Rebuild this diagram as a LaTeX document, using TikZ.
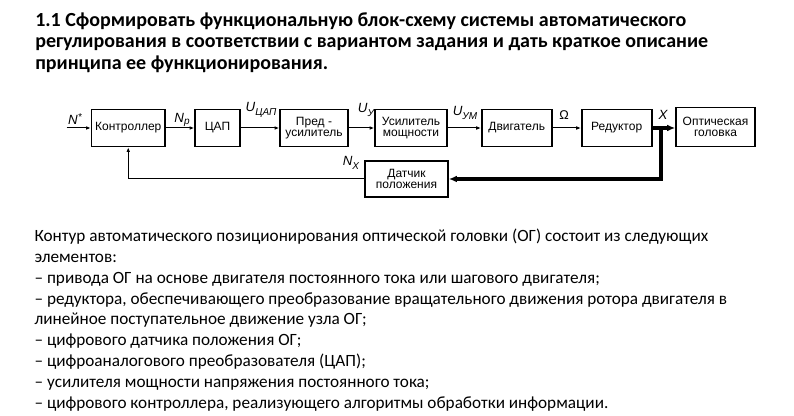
\documentclass[tikz,border=0pt]{standalone}
\usepackage{fontspec}
\setmainfont{Carlito}
\newfontfamily\arialf{Liberation Sans}
\usetikzlibrary{arrows.meta}
\begin{document}
\begin{tikzpicture}[x=0.75pt,y=-0.75pt,
  blk/.style={draw,line width=1.2pt,inner sep=0pt,minimum height=27.75pt,align=center,font=\arialf\fontsize{9}{8.6}\selectfont},
  lab/.style={inner sep=0pt,font=\arialf\itshape\fontsize{10}{11}\selectfont},
  conn/.style={line width=0.75pt,-{Latex[length=3.5pt,width=2.8pt]}},
  thk/.style={line width=2.3pt},
  ttl/.style={anchor=base west,inner sep=0pt,font=\bfseries\fontsize{15}{16}\selectfont},
  bod/.style={anchor=base west,inner sep=0pt,font=\fontsize{12.9}{15}\selectfont}]
\useasboundingbox[fill=white] (0,0) rectangle (794,416);
% title
\node[ttl] (t1) at (35,26.7) {1.1 Сформировать функциональную блок-схему системы автоматического};
\node[ttl] (t2) at (35,48) {регулирования в соответствии с вариантом задания и дать краткое описание};
\node[ttl] (t3) at (35,69.3) {принципа ее функционирования.};
% blocks
\node[blk,minimum width=55.1pt] (ctrl) at (128.25,128) {Контроллер};
\node[blk,minimum width=33.75pt] (dac) at (217.5,128) {ЦАП};
\node[blk,minimum width=51pt] (pre) at (314,128) {Пред -\\усилитель};
\node[blk,minimum width=54pt] (amp) at (411,128) {Усилитель\\мощности};
\node[blk,minimum width=52.5pt] (mot) at (516.7,128) {Двигатель};
\node[blk,minimum width=52.5pt] (red) at (616.7,128) {Редуктор};
\node[blk,minimum width=59.25pt,minimum height=29.25pt] (opt) at (715.5,127) {Оптическая\\головка};
\node[blk,minimum width=62.25pt,minimum height=27pt] (dat) at (406.5,179) {Датчик\\положения};
% connectors
\coordinate (in) at (66.7,128);
\coordinate (br) at (661,128);
\draw[conn] (in) -- (ctrl.west);
\draw[conn] (ctrl.east) -- (dac.west);
\draw[conn] (dac.east) -- (pre.west);
\draw[conn] (pre.east) -- (amp.west);
\draw[conn] (amp.east) -- (mot.west);
\draw[conn] (mot.east) -- (red.west);
\draw[thk] (red.east) -- (br);
\draw[thk,-{Latex[length=6pt,width=5pt]}] (br) -- (br -| opt.west);
\draw[thk,-{Latex[length=6pt,width=5pt]}] (br) |- (dat.east);
\draw[conn] (dat.west) -| (ctrl.south);
% labels
\node[lab] (lN) at (75,119) {N\raisebox{3.5pt}{\fontsize{7.5}{8}\selectfont *}};
\node[lab] (lNp) at (182,120) {N\raisebox{-2pt}{\fontsize{7.5}{8}\selectfont p}};
\node[lab] (lU1) at (261,110) {U\raisebox{-3pt}{\fontsize{7.5}{8}\selectfont ЦАП}};
\node[lab] (lU2) at (366,110) {U\raisebox{-3pt}{\fontsize{7.5}{8}\selectfont У}};
\node[lab] (lU3) at (465,113) {U\raisebox{-3pt}{\fontsize{7.5}{8}\selectfont УМ}};
\node[lab,font=\arialf\fontsize{9.5}{10}\selectfont] (lW) at (564,115) {Ω};
\node[lab] (lX) at (663,115) {X};
\node[lab] (lNx) at (351,163) {N\raisebox{-2.5pt}{\fontsize{7.5}{8}\selectfont X}};
% body
\node[bod] (b1) at (34.3,241.7) {Контур автоматического позиционирования оптической головки (ОГ) состоит из следующих};
\node[bod] (b2) at (34.3,262.5) {элементов:};
\node[bod] (b3) at (34.3,283.3) {– привода ОГ на основе двигателя постоянного тока или шагового двигателя;};
\node[bod] (b4) at (34.3,304.1) {– редуктора, обеспечивающего преобразование вращательного движения ротора двигателя в};
\node[bod] (b5) at (34.3,324.9) {линейное поступательное движение узла ОГ;};
\node[bod] (b6) at (34.3,345.7) {– цифрового датчика положения ОГ;};
\node[bod] (b7) at (34.3,366.5) {– цифроаналогового преобразователя (ЦАП);};
\node[bod] (b8) at (34.3,387.3) {– усилителя мощности напряжения постоянного тока;};
\node[bod] (b9) at (34.3,408.1) {– цифрового контроллера, реализующего алгоритмы обработки информации.};
\end{tikzpicture}
\end{document}
